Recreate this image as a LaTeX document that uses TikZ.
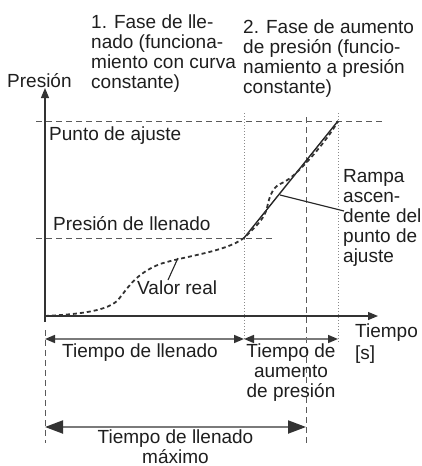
\documentclass[tikz,border=0pt]{standalone}
\usepackage{fontspec}
\setmainfont{Liberation Sans}
\usetikzlibrary{arrows.meta}
\definecolor{txt}{HTML}{1E1E1E}
\definecolor{gridc}{HTML}{5A5A5A}
\definecolor{dotc}{HTML}{8A8A8A}
\definecolor{axc}{HTML}{333333}
\definecolor{curvc}{HTML}{333333}
\definecolor{dimline}{HTML}{7A7A7A}
\definecolor{dimhead}{HTML}{333333}
\begin{document}
\begin{tikzpicture}[x=1pt,y=-1pt,
  font=\fontsize{19}{20}\selectfont,
  lbl/.style={inner sep=0pt, anchor=base west, text=txt},
  ml/.style={inner sep=0pt, anchor=north west, align=left, text=txt},
  mlc/.style={inner sep=0pt, anchor=north, align=center, text=txt},
  refdash/.style={draw=gridc, line width=0.9pt, dash pattern=on 6pt off 4pt},
  refdot/.style={draw=dotc, line width=1pt, dash pattern=on 1pt off 2pt},
  axisline/.style={draw=axc, line width=1.2pt, -{Triangle[length=10pt,width=8pt]}},
  rampline/.style={draw=black!85, line width=1.4pt},
  actual/.style={draw=curvc, line width=1.8pt, dash pattern=on 4pt off 3pt},
  leader/.style={draw=black!85, line width=1.1pt},
  dimsmall/.style={draw=dimline, line width=1.6pt,
    {Triangle[length=10pt,width=8pt,color=dimhead]}-{Triangle[length=10pt,width=8pt,color=dimhead]}},
  dimbig/.style={draw=dimline, line width=2pt,
    {Triangle[length=18pt,width=13pt,color=dimhead]}-{Triangle[length=18pt,width=13pt,color=dimhead]}}
]
\useasboundingbox (0,0) rectangle (422,466);

% coordinates
\coordinate (ybot) at (45,322);
\coordinate (ytip) at (45,88);
\coordinate (O) at (45,316);
\coordinate (xtip) at (378,316);
\coordinate (spL) at (36,121);
\coordinate (spR) at (385,121);
\coordinate (fpL) at (36,238);
\coordinate (fpR) at (273,238);
\coordinate (t1top) at (244,113);
\coordinate (t1bot) at (244,340);
\coordinate (t2top) at (338,113);
\coordinate (t2bot) at (338,342);
\coordinate (tmtop) at (306,117);
\coordinate (tmbot) at (306,443);
\coordinate (y0top) at (45,330);
\coordinate (y0bot) at (45,443);
\coordinate (rampS) at (244,238);
\coordinate (rampE) at (338,121);
\coordinate (d1L) at (45,339);
\coordinate (d1R) at (244,339);
\coordinate (d2L) at (244,339);
\coordinate (d2R) at (338,339);
\coordinate (d3L) at (45,427);
\coordinate (d3R) at (306,427);
\coordinate (vrA) at (178,258);
\coordinate (vrB) at (168,280);
\coordinate (rpA) at (280,195);
\coordinate (rpB) at (344,211);

% reference lines
\draw[refdash] (spL) -- (spR);
\draw[refdash] (fpL) -- (fpR);
\draw[refdot] (t1top) -- (t1bot);
\draw[refdot] (t2top) -- (t2bot);
\draw[refdash] (tmtop) -- (tmbot);
\draw[refdash] (y0top) -- (y0bot);

% axes
\draw[axisline] (ybot) -- (ytip);
\draw[axisline] (O) -- (xtip);

% setpoint ramp
\draw[rampline] (rampS) -- (rampE);

% actual value
\draw[actual] (O) .. controls (85,314) and (108,310) .. (118,300)
  .. controls (128,288) and (135,274) .. (160,264)
  .. controls (185,256) and (225,252) .. (rampS)
  .. controls (254,228) and (264,220) .. (267,208)
  .. controls (269,198) and (272,188) .. (280,184)
  .. controls (287,181) and (292,177) .. (297,172)
  .. controls (310,160) and (330,136) .. (rampE);

% leaders
\draw[leader] (vrA) -- (vrB);
\draw[leader] (rpA) -- (rpB);

% dimension arrows
\draw[dimsmall] (d1L) -- (d1R);
\draw[dimsmall] (d2L) -- (d2R);
\draw[dimbig] (d3L) -- (d3R);

% texts
\node[lbl] (pres) at (7,87) {Presión};
\node[ml] (phase1) at (91,14.3) {1. Fase de lle-\\nado (funciona-\\miento con curva\\constante)};
\node[ml] (phase2) at (243,19.3) {2. Fase de aumento\\de presión (funcio-\\namiento a presión\\constante)};
\node[lbl] (punto) at (49,140) {Punto de ajuste};
\node[lbl] (llen) at (53,230) {Presión de llenado};
\node[lbl] (valor) at (137,294) {Valor real};
\node[ml] (rampa) at (343,169.3) {Rampa\\ascen-\\dente del\\punto de\\ajuste};
\node[ml] (tiempo) at (355,323.3) {Tiempo\\[2pt]{[s]}};
\node[inner sep=0pt, anchor=base, text=txt] (tll) at (140,357) {Tiempo de llenado};
\node[mlc] (tau) at (291,343.3) {Tiempo de\\aumento\\de presión};
\node[mlc] (tmax) at (175.5,429.3) {Tiempo de llenado\\máximo};
\end{tikzpicture}
\end{document}
